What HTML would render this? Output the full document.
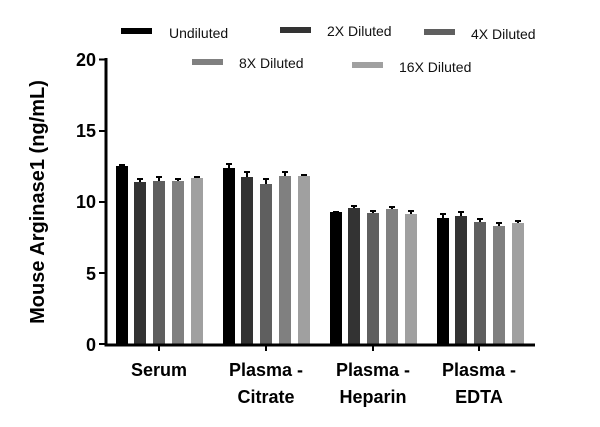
<!DOCTYPE html>
<html><head><meta charset="utf-8"><style>html,body{margin:0;padding:0;background:#fff}svg{display:block}</style></head>
<body>
<svg width="600" height="427" viewBox="0 0 600 427" xmlns="http://www.w3.org/2000/svg" font-family="Liberation Sans, sans-serif">
<rect width="600" height="427" fill="#fff"/>
<g font-size="14" fill="#111">
<rect x="121" y="28" width="31" height="6" fill="#000"/><text x="169" y="38">Undiluted</text>
<rect x="280" y="27" width="31" height="6" fill="#333"/><text x="327" y="36">2X Diluted</text>
<rect x="424" y="29" width="31" height="6" fill="#5f5f5f"/><text x="471" y="39">4X Diluted</text>
<rect x="192" y="59" width="31" height="6" fill="#808080"/><text x="239" y="68">8X Diluted</text>
<rect x="352" y="62" width="31" height="6" fill="#a0a0a0"/><text x="399" y="72">16X Diluted</text>
</g>
<g>
<rect x="116" y="166" width="12" height="178" fill="#000"/>
<rect x="134" y="182" width="12" height="162" fill="#333"/>
<rect x="153" y="181" width="12" height="163" fill="#5f5f5f"/>
<rect x="172" y="181" width="12" height="163" fill="#808080"/>
<rect x="191" y="178" width="12" height="166" fill="#a0a0a0"/>
<rect x="223" y="168" width="12" height="176" fill="#000"/>
<rect x="241" y="177" width="12" height="167" fill="#333"/>
<rect x="260" y="184" width="12" height="160" fill="#5f5f5f"/>
<rect x="279" y="176" width="12" height="168" fill="#808080"/>
<rect x="298" y="176" width="12" height="168" fill="#a0a0a0"/>
<rect x="330" y="212" width="12" height="132" fill="#000"/>
<rect x="348" y="208" width="12" height="136" fill="#333"/>
<rect x="367" y="213" width="12" height="131" fill="#5f5f5f"/>
<rect x="386" y="209" width="12" height="135" fill="#808080"/>
<rect x="405" y="214" width="12" height="130" fill="#a0a0a0"/>
<rect x="437" y="218" width="12" height="126" fill="#000"/>
<rect x="455" y="216" width="12" height="128" fill="#333"/>
<rect x="474" y="222" width="12" height="122" fill="#5f5f5f"/>
<rect x="493" y="226" width="12" height="118" fill="#808080"/>
<rect x="512" y="223" width="12" height="121" fill="#a0a0a0"/>
</g>
<g stroke="#000" stroke-width="2">
<path d="M122 166v-1M119 165h6"/>
<path d="M140 182v-3M137 179h6"/>
<path d="M159 181v-4M156 177h6"/>
<path d="M178 181v-2M175 179h6"/>
<path d="M197 178v-1M194 177h6"/>
<path d="M229 168v-4M226 164h6"/>
<path d="M247 177v-5M244 172h6"/>
<path d="M266 184v-5M263 179h6"/>
<path d="M285 176v-4M282 172h6"/>
<path d="M304 176v-1M301 175h6"/>
<path d="M336 212v0M333 212h6"/>
<path d="M354 208v-2M351 206h6"/>
<path d="M373 213v-2M370 211h6"/>
<path d="M392 209v-2M389 207h6"/>
<path d="M411 214v-3M408 211h6"/>
<path d="M443 218v-4M440 214h6"/>
<path d="M461 216v-4M458 212h6"/>
<path d="M480 222v-3M477 219h6"/>
<path d="M499 226v-3M496 223h6"/>
<path d="M518 223v-2M515 221h6"/>
</g>
<g stroke="#000" stroke-width="3" fill="none">
<path d="M106 58V345H535"/>
<path d="M99 59.5h7M99 131h7M99 202h7M99 273h7M99 344h7" stroke-width="2"/>
<path d="M159 345v6M266 345v6M373 345v6M479 345v6" stroke-width="2"/>
</g>
<g font-size="18" font-weight="bold" text-anchor="end" fill="#000">
<text x="96" y="66">20</text>
<text x="96" y="137">15</text>
<text x="96" y="208">10</text>
<text x="96" y="280">5</text>
<text x="96" y="351">0</text>
</g>
<g font-size="18" font-weight="bold" text-anchor="middle" fill="#000">
<text x="159" y="376">Serum</text>
<text x="266" y="376">Plasma -</text><text x="266" y="403">Citrate</text>
<text x="373" y="376">Plasma -</text><text x="373" y="403">Heparin</text>
<text x="479" y="376">Plasma -</text><text x="479" y="403">EDTA</text>
</g>
<text transform="translate(44,202) rotate(-90)" font-size="20" font-weight="bold" text-anchor="middle" fill="#000">Mouse Arginase1 (ng/mL)</text>
</svg>
</body></html>
